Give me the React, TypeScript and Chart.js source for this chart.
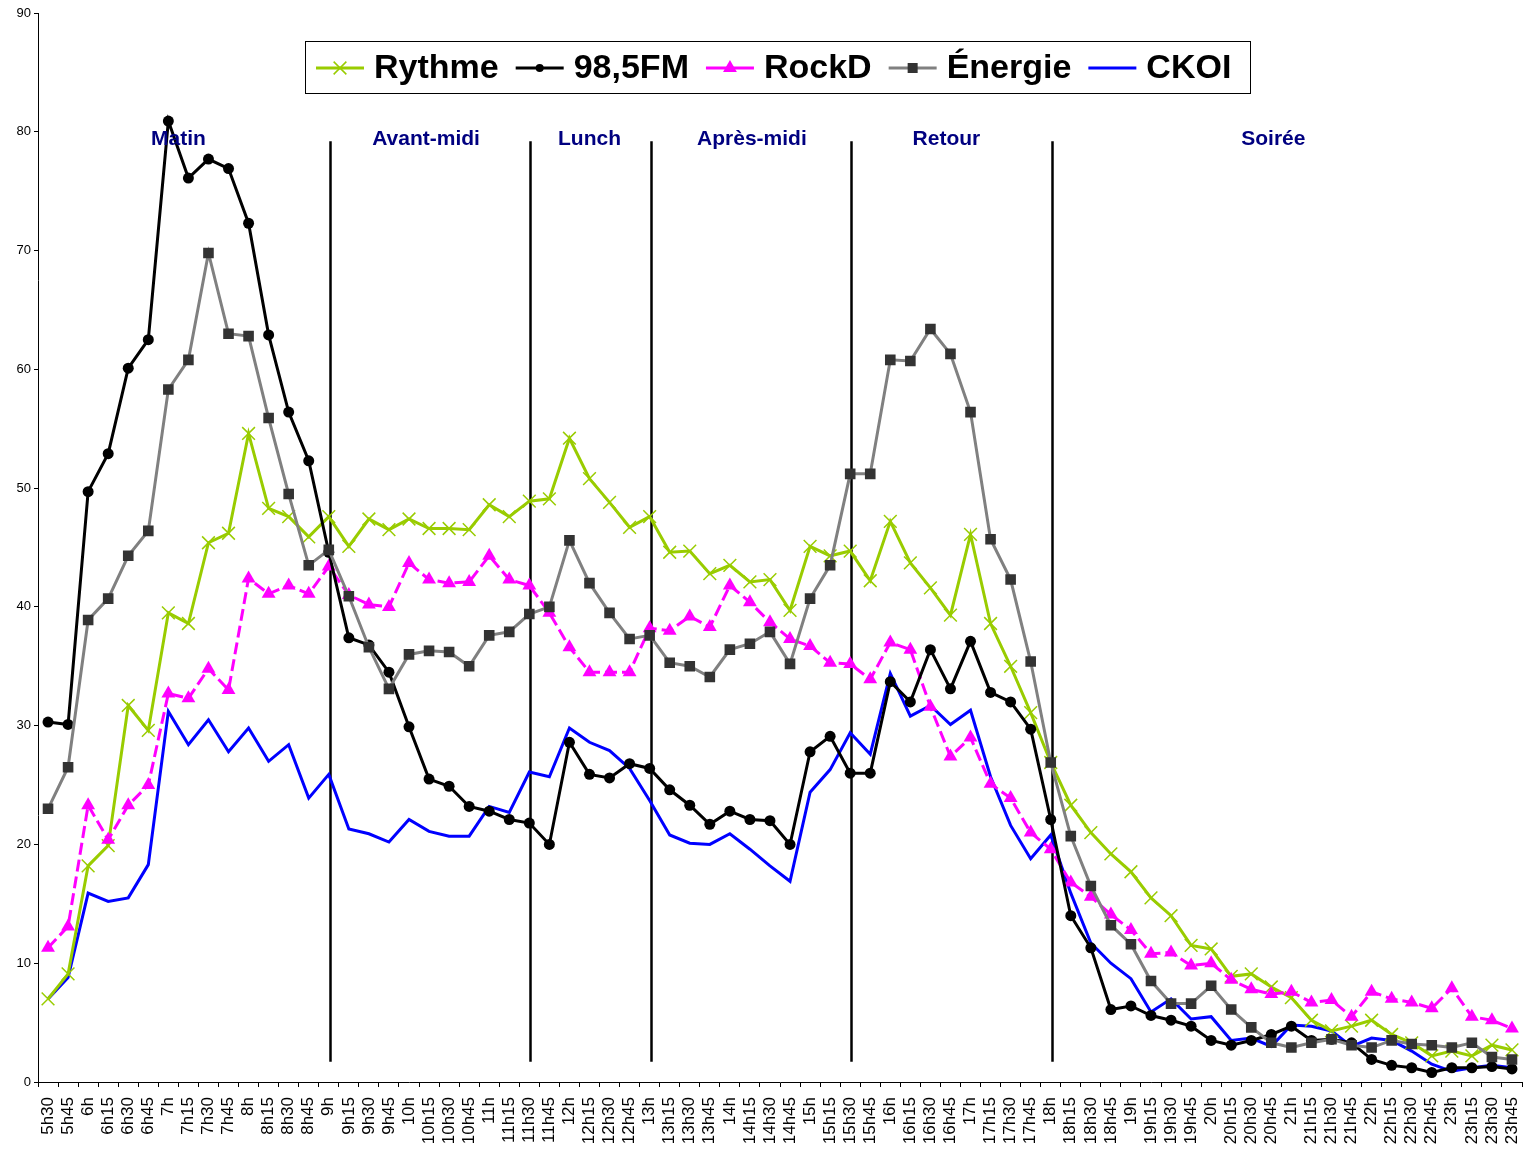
import React, { useEffect, useRef } from 'react';
import { Chart, registerables } from 'chart.js';

Chart.register(...registerables);

const timeLabels = [
  '5h30', '5h45',
  '6h', '6h15', '6h30', '6h45',
  '7h', '7h15', '7h30', '7h45',
  '8h', '8h15', '8h30', '8h45',
  '9h', '9h15', '9h30', '9h45',
  '10h', '10h15', '10h30', '10h45',
  '11h', '11h15', '11h30', '11h45',
  '12h', '12h15', '12h30', '12h45',
  '13h', '13h15', '13h30', '13h45',
  '14h', '14h15', '14h30', '14h45',
  '15h', '15h15', '15h30', '15h45',
  '16h', '16h15', '16h30', '16h45',
  '17h', '17h15', '17h30', '17h45',
  '18h', '18h15', '18h30', '18h45',
  '19h', '19h15', '19h30', '19h45',
  '20h', '20h15', '20h30', '20h45',
  '21h', '21h15', '21h30', '21h45',
  '22h', '22h15', '22h30', '22h45',
  '23h', '23h15', '23h30', '23h45',
];

const rythme = [
  7.0, 9.1, 18.2, 19.9, 31.7, 29.6, 39.5, 38.6, 45.4, 46.2,
  54.6, 48.3, 47.6, 45.9, 47.6, 45.1, 47.4, 46.5, 47.4, 46.6,
  46.6, 46.5, 48.6, 47.6, 48.9, 49.1, 54.2, 50.8, 48.8, 46.7,
  47.6, 44.6, 44.7, 42.8, 43.5, 42.1, 42.3, 39.7, 45.1, 44.3,
  44.7, 42.2, 47.2, 43.7, 41.6, 39.3, 46.1, 38.6, 35.0, 31.1,
  26.9, 23.3, 21.0, 19.2, 17.7, 15.5, 14.0, 11.5, 11.2, 8.9,
  9.1, 8.0, 7.1, 5.2, 4.3, 4.7, 5.2, 4.0, 3.3, 2.2,
  2.6, 2.2, 3.1, 2.7,
];

const fm985 = [
  30.3, 30.1, 49.7, 52.9, 60.1, 62.5, 80.9, 76.1, 77.7, 76.9,
  72.3, 62.9, 56.4, 52.3, 44.6, 37.4, 36.8, 34.5, 29.9, 25.5,
  24.9, 23.2, 22.8, 22.1, 21.8, 20.0, 28.6, 25.9, 25.6, 26.8,
  26.4, 24.6, 23.3, 21.7, 22.8, 22.1, 22.0, 20.0, 27.8, 29.1,
  26.0, 26.0, 33.7, 32.0, 36.4, 33.1, 37.1, 32.8, 32.0, 29.7,
  22.1, 14.0, 11.3, 6.1, 6.4, 5.6, 5.2, 4.7, 3.5, 3.1,
  3.5, 4.0, 4.7, 3.5, 3.6, 3.3, 1.9, 1.4, 1.2, 0.8,
  1.2, 1.2, 1.3, 1.1,
];

const rockD = [
  11.3, 13.1, 23.3, 20.4, 23.3, 25.0, 32.7, 32.3, 34.8, 33.0,
  42.4, 41.1, 41.8, 41.1, 43.4, 41.0, 40.2, 40.0, 43.7, 42.3,
  42.0, 42.1, 44.3, 42.3, 41.8, 39.5, 36.6, 34.5, 34.5, 34.5,
  38.2, 38.0, 39.2, 38.3, 41.8, 40.4, 38.7, 37.3, 36.7, 35.3,
  35.2, 33.9, 37.0, 36.4, 31.6, 27.4, 29.0, 25.1, 23.9, 21.0,
  19.6, 16.8, 15.6, 14.1, 12.8, 10.8, 10.9, 9.8, 10.0, 8.6,
  7.8, 7.4, 7.6, 6.7, 6.9, 5.5, 7.6, 7.0, 6.7, 6.2,
  7.9, 5.5, 5.2, 4.5,
];

const energie = [
  23.0, 26.5, 38.9, 40.7, 44.3, 46.4, 58.3, 60.8, 69.8, 63.0,
  62.8, 55.9, 49.5, 43.5, 44.8, 40.9, 36.6, 33.1, 36.0, 36.3,
  36.2, 35.0, 37.6, 37.9, 39.4, 40.0, 45.6, 42.0, 39.5, 37.3,
  37.6, 35.3, 35.0, 34.1, 36.4, 36.9, 37.9, 35.2, 40.7, 43.5,
  51.2, 51.2, 60.8, 60.7, 63.4, 61.3, 56.4, 45.7, 42.3, 35.4,
  26.9, 20.7, 16.5, 13.2, 11.6, 8.5, 6.6, 6.6, 8.1, 6.1,
  4.6, 3.3, 2.9, 3.3, 3.6, 3.1, 2.9, 3.5, 3.2, 3.1,
  2.9, 3.3, 2.1, 1.9,
];

const ckoi = [
  7.0, 8.8, 15.9, 15.2, 15.5, 18.3, 31.2, 28.4, 30.5, 27.8,
  29.8, 27.0, 28.4, 23.9, 25.9, 21.3, 20.9, 20.2, 22.1, 21.1,
  20.7, 20.7, 23.2, 22.7, 26.1, 25.7, 29.8, 28.6, 27.9, 26.4,
  23.7, 20.8, 20.1, 20.0, 20.9, 19.6, 18.2, 16.9, 24.4, 26.3,
  29.4, 27.6, 34.4, 30.8, 31.7, 30.1, 31.3, 25.7, 21.6, 18.8,
  20.8, 15.9, 11.7, 10.0, 8.7, 5.9, 7.0, 5.3, 5.5, 3.5,
  3.7, 3.0, 4.8, 4.7, 4.3, 3.0, 3.7, 3.5, 2.6, 1.5,
  0.9, 1.2, 1.4, 1.2,
];

const seriesNames = ['Rythme', '98,5FM', 'RockD', 'Énergie', 'CKOI'];
const sectionBreaks = ['9h', '11h30', '13h', '15h30', '18h'];
const sectionNames = ['Matin', 'Avant-midi', 'Lunch', 'Après-midi', 'Retour', 'Soirée'];

const FONT = "'Liberation Sans', Arial, Helvetica, sans-serif";

const COLORS = {
  rythme: '#99CC00',
  fm: '#000000',
  rock: '#FF00FF',
  energieLine: '#808080',
  energieMarker: '#333333',
  ckoi: '#0000FF',
};

function drawMarker(ctx: CanvasRenderingContext2D, kind: string, x: number, y: number, color: string) {
  ctx.save();
  ctx.fillStyle = color;
  ctx.strokeStyle = color;
  if (kind === 'x') {
    ctx.lineWidth = 1.5;
    const r = 9 / Math.SQRT2;
    ctx.beginPath();
    ctx.moveTo(x - r, y - r); ctx.lineTo(x + r, y + r);
    ctx.moveTo(x - r, y + r); ctx.lineTo(x + r, y - r);
    ctx.stroke();
  } else if (kind === 'circle') {
    ctx.beginPath();
    ctx.arc(x, y, 4, 0, Math.PI * 2);
    ctx.fill();
  } else if (kind === 'triangle') {
    const r = 8;
    ctx.beginPath();
    ctx.moveTo(x, y - r);
    ctx.lineTo(x + r * Math.sin(Math.PI / 3), y + r / 2);
    ctx.lineTo(x - r * Math.sin(Math.PI / 3), y + r / 2);
    ctx.closePath();
    ctx.fill();
  } else if (kind === 'rect') {
    ctx.fillRect(x - 5, y - 5, 10, 10);
  }
  ctx.restore();
}

const overlayPlugin = {
  id: 'overlay',
  beforeDatasetsDraw(chart: any) {
    const { ctx, scales } = chart;
    const xs = scales.x;
    const ys = scales.y;
    ctx.save();
    ctx.strokeStyle = '#000';
    ctx.lineWidth = 2.5;
    sectionBreaks.forEach((lab) => {
      const idx = timeLabels.indexOf(lab);
      const px = Math.round(xs.getPixelForValue(idx)) + 1.5;
      ctx.beginPath();
      ctx.moveTo(px, ys.getPixelForValue(1.7));
      ctx.lineTo(px, ys.getPixelForValue(79.2));
      ctx.stroke();
    });
    ctx.restore();
  },
  afterDraw(chart: any) {
    const { ctx, scales } = chart;
    const xs = scales.x;
    const ys = scales.y;
    ctx.save();
    // section titles
    const labelPos = [6.5, 18.85, 27, 35.1, 44.8, 61.1];
    ctx.fillStyle = '#000080';
    ctx.font = `bold 21px ${FONT}`;
    ctx.textAlign = 'center';
    ctx.textBaseline = 'middle';
    sectionNames.forEach((name, i) => {
      ctx.fillText(name, xs.getPixelForValue(labelPos[i]), ys.getPixelForValue(79.4));
    });

    // legend box
    const bx = 305, by = 41, bw = 945, bh = 52;
    ctx.fillStyle = '#fff';
    ctx.fillRect(bx, by, bw, bh);
    ctx.strokeStyle = '#000';
    ctx.lineWidth = 1;
    ctx.strokeRect(bx + 0.5, by + 0.5, bw, bh);

    const items = [
      { color: COLORS.rythme, marker: 'x', mcolor: COLORS.rythme },
      { color: COLORS.fm, marker: 'circle', mcolor: COLORS.fm },
      { color: COLORS.rock, marker: 'triangle', mcolor: COLORS.rock },
      { color: COLORS.energieLine, marker: 'rect', mcolor: COLORS.energieMarker },
      { color: COLORS.ckoi, marker: 'none', mcolor: COLORS.ckoi },
    ];
    const cy = by + 27;
    let x = 316;
    ctx.font = `bold 34px ${FONT}`;
    ctx.textAlign = 'left';
    ctx.textBaseline = 'middle';
    items.forEach((it, i) => {
      ctx.save();
      ctx.strokeStyle = it.color;
      ctx.lineWidth = 3;
      ctx.beginPath();
      ctx.moveTo(x, cy);
      ctx.lineTo(x + 48, cy);
      ctx.stroke();
      ctx.restore();
      if (it.marker !== 'none') drawMarker(ctx, it.marker, x + 24, cy, it.mcolor);
      ctx.fillStyle = '#000';
      ctx.fillText(seriesNames[i], x + 58, cy + 1);
      const w = ctx.measureText(seriesNames[i]).width;
      x = x + 58 + w + 17;
    });
    ctx.restore();
  },
};

export default function App() {
  const canvasRef = useRef<HTMLCanvasElement>(null);

  useEffect(() => {
    const canvas = canvasRef.current;
    if (!canvas) return;
    const chart = new Chart(canvas, {
      type: 'line',
      data: {
        labels: timeLabels,
        datasets: [
          {
            label: seriesNames[0],
            data: rythme,
            borderColor: COLORS.rythme,
            backgroundColor: COLORS.rythme,
            borderWidth: 3,
            pointStyle: 'crossRot',
            pointRadius: 9,
            pointBorderWidth: 1.5,
            pointBorderColor: COLORS.rythme,
            tension: 0,
            order: 4,
          },
          {
            label: seriesNames[1],
            data: fm985,
            borderColor: COLORS.fm,
            backgroundColor: COLORS.fm,
            borderWidth: 3,
            pointStyle: 'circle',
            pointRadius: 5.5,
            pointBorderWidth: 0,
            pointBackgroundColor: COLORS.fm,
            tension: 0,
            order: 2,
          },
          {
            label: seriesNames[2],
            data: rockD,
            borderColor: COLORS.rock,
            backgroundColor: COLORS.rock,
            borderWidth: 3,
            borderDash: [12, 5],
            pointStyle: 'triangle',
            pointRadius: 8,
            pointBorderWidth: 0,
            pointBackgroundColor: COLORS.rock,
            tension: 0,
            order: 3,
          },
          {
            label: seriesNames[3],
            data: energie,
            borderColor: COLORS.energieLine,
            backgroundColor: COLORS.energieMarker,
            borderWidth: 3,
            pointStyle: 'rect',
            pointRadius: 7.5,
            pointBorderWidth: 0,
            pointBackgroundColor: COLORS.energieMarker,
            tension: 0,
            order: 1,
          },
          {
            label: seriesNames[4],
            data: ckoi,
            borderColor: COLORS.ckoi,
            backgroundColor: COLORS.ckoi,
            borderWidth: 3,
            pointRadius: 0,
            tension: 0,
            order: 5,
          },
        ],
      },
      options: {
        responsive: false,
        animation: false,
        devicePixelRatio: 1,
        layout: { autoPadding: false, padding: { top: 13, right: 5, left: 0, bottom: 0 } },
        plugins: {
          legend: { display: false },
          tooltip: { enabled: false },
          title: { display: false },
        },
        scales: {
          x: {
            type: 'category',
            offset: true,
            grid: {
              offset: true,
              drawOnChartArea: false,
              drawTicks: true,
              tickLength: 5,
              color: '#000',
            },
            border: { display: true, color: '#000', width: 1 },
            ticks: {
              autoSkip: false,
              maxRotation: 90,
              minRotation: 90,
              padding: 10,
              color: '#000',
              font: { family: FONT, size: 17 },
            },
            afterFit: (axis: any) => {
              axis.height = 69;
              axis.paddingLeft = 0;
              axis.paddingRight = 0;
            },
          },
          y: {
            min: 0,
            max: 90,
            grid: {
              drawOnChartArea: false,
              drawTicks: true,
              tickLength: 4,
              color: '#000',
            },
            border: { display: true, color: '#000', width: 1 },
            ticks: {
              stepSize: 10,
              padding: 3,
              color: '#000',
              font: { family: FONT, size: 13 },
            },
            afterFit: (axis: any) => {
              axis.width = 38;
              axis.paddingTop = 0;
              axis.paddingBottom = 0;
            },
          },
        },
      },
      plugins: [overlayPlugin],
    } as any);
    return () => chart.destroy();
  }, []);

  return (
    <div style={{ position: 'absolute', left: 0, top: 0, width: 1527, height: 1151, background: '#fff' }}>
      <canvas ref={canvasRef} width={1527} height={1151} style={{ width: 1527, height: 1151, display: 'block' }} />
    </div>
  );
}
